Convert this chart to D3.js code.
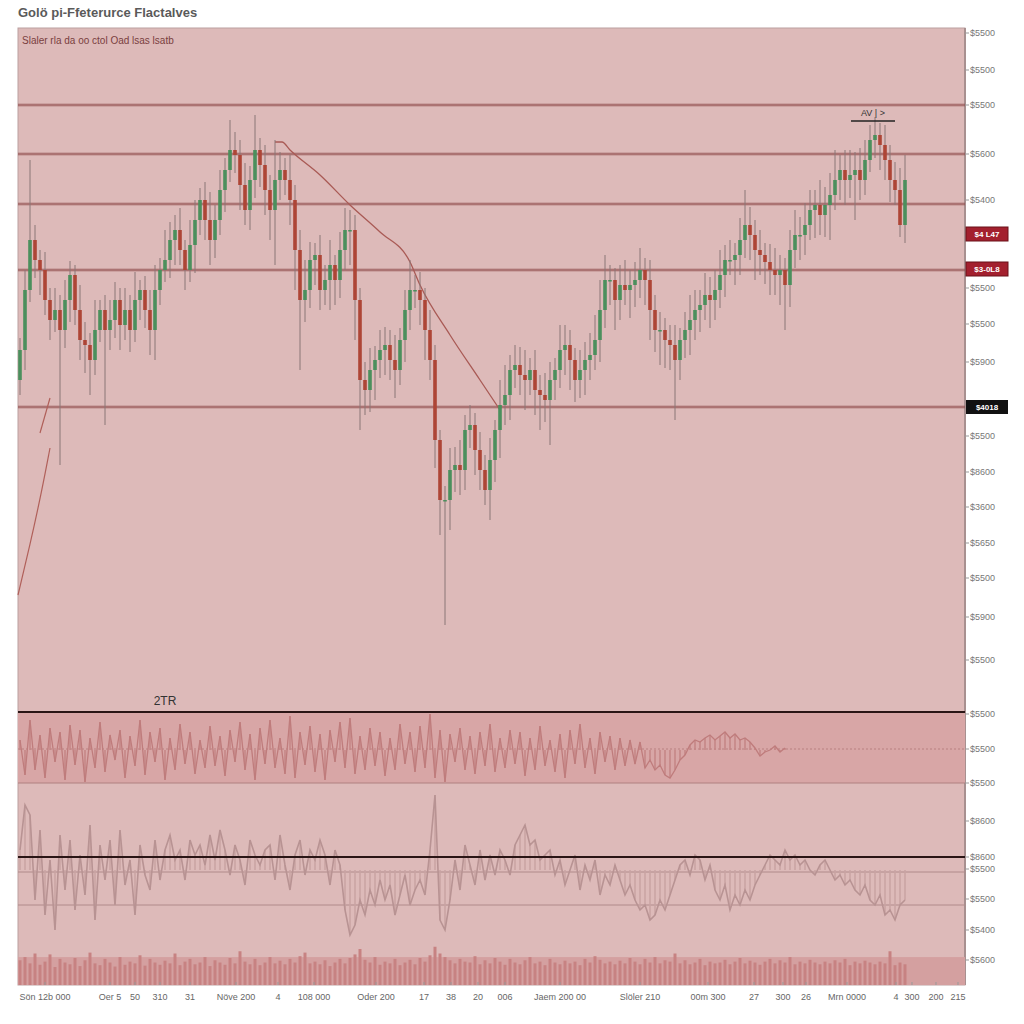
<!DOCTYPE html>
<html><head><meta charset="utf-8">
<script src="https://cdn.jsdelivr.net/npm/d3@7"></script>
<style>body{margin:0;background:#fff}text{font-family:"Liberation Sans",Arial,sans-serif}</style></head>
<body><svg id="c" width="1024" height="1024"></svg>
<script>
const firstOpen = 2080;
const closes = [
2110,2170,2220,2200,2190,2160,2140,2150,2130,2160,
2185,2150,2120,2115,2100,2130,2150,2130,2140,2160,
2135,2150,2130,2160,2170,2150,2130,2170,2190,2200,
2220,2230,2210,2190,2215,2240,2260,2240,2220,2240,
2270,2290,2310,2305,2275,2250,2280,2310,2295,2270,
2250,2280,2290,2280,2260,2210,2160,2170,2200,2205,
2170,2180,2195,2180,2210,2230,2230,2160,2080,2070,
2090,2100,2110,2115,2100,2090,2120,2150,2170,2170,
2160,2130,2100,2020,1960,1960,1990,1995,1990,2030,
2035,2010,1990,1970,2000,2030,2055,2065,2090,2095,
2085,2080,2090,2070,2065,2060,2080,2090,2110,2115,
2100,2080,2090,2100,2105,2120,2150,2180,2180,2160,
2175,2170,2175,2180,2190,2180,2150,2130,2130,2120,
2115,2100,2120,2130,2140,2150,2155,2165,2160,2170,
2185,2200,2200,2205,2220,2235,2225,2210,2205,2198,
2190,2185,2190,2175,2210,2225,2225,2235,2250,2255,
2245,2255,2265,2280,2290,2280,2285,2290,2280,2300,
2320,2325,2315,2300,2280,2270,2235,2280];
const wickUp = [
12,20,80,15,10,18,12,22,15,20,
14,10,25,18,12,30,10,15,20,18,
12,22,15,28,10,14,20,25,12,30,
18,15,22,10,25,20,12,18,28,15,
20,12,30,18,15,22,14,35,12,20,
15,40,18,12,25,15,20,30,18,12,
20,15,25,10,18,22,20,15,12,18,
22,14,20,18,15,25,12,20,30,15,
18,12,20,15,10,14,22,18,25,15,
20,12,18,15,22,10,25,30,15,20,
18,25,12,20,15,22,18,12,25,20,
15,12,20,18,22,25,30,25,15,12,
20,25,15,18,22,12,20,15,18,12,
15,20,12,18,25,20,15,22,18,20,
25,15,20,12,22,35,18,15,20,12,
18,22,15,12,20,25,18,22,20,15,
25,18,22,30,15,20,25,18,22,20,
15,18,12,20,15,18,22,25];
const wickDown = [
15,20,12,18,25,15,20,12,135,18,
22,15,20,28,35,15,12,95,20,18,
25,15,22,12,20,18,25,30,15,12,
18,25,15,20,12,28,15,20,25,18,
15,22,12,18,25,15,20,18,22,25,
30,55,20,15,25,40,70,22,18,25,
20,15,30,25,18,20,35,40,50,25,
22,30,18,25,20,28,15,22,20,18,
25,30,20,28,35,125,30,22,25,20,
18,25,20,15,30,22,28,20,25,18,
20,30,15,25,35,22,45,20,18,25,
30,22,18,25,20,15,22,18,25,30,
20,15,28,22,18,25,30,22,35,28,
25,60,20,18,25,20,22,15,28,20,
18,22,15,25,20,18,25,30,20,22,
25,20,30,45,22,18,25,20,15,28,
20,22,35,15,20,25,18,45,20,15,
12,18,25,20,22,15,12,18];
const osc1 = [
10,-25,30,-20,15,-28,22,-12,18,-30,
25,-15,20,-32,12,-18,28,-22,15,-10,
20,-28,14,-16,30,-25,18,-12,22,-30,
12,-20,26,-14,18,-24,10,-18,24,-16,
14,-26,20,-12,28,-20,16,-30,22,-14,
30,-18,12,-24,34,-28,18,-15,24,-22,
16,-30,20,-12,28,-18,32,-24,14,-20,
22,-16,18,-26,12,-20,26,-14,18,-22,
24,-18,36,-28,20,-32,16,-12,22,-20,
14,-24,18,-16,26,-22,12,-18,20,-14,
18,-26,12,-20,24,-16,10,-22,16,-28,
20,-14,26,-18,12,-24,18,-12,14,-20,
12,-16,10,-14,8,-18,-10,-20,-15,-25,
-28,-20,-10,-5,5,10,8,12,15,10,
14,18,12,16,10,12,8,2,-6,-2,
0,4,-2,2];
const osc2 = [
20,65,55,-30,40,-45,10,-60,35,-20,
30,-40,15,-25,45,-50,25,-10,30,-35,
40,-15,10,-45,25,-5,-20,30,-10,20,
35,10,20,-10,30,15,25,5,35,10,
40,20,-5,25,10,-15,30,15,5,20,
25,-10,35,5,-20,15,30,-5,20,10,
30,15,-15,20,5,-40,-65,-55,-30,-45,
-20,-35,-10,-30,-15,-45,-25,-5,-35,-20,
-10,-25,20,75,-50,-60,-30,10,-20,25,
5,-15,20,-10,15,-5,20,10,-5,25,
35,45,25,30,10,15,20,-5,10,-15,
0,15,-20,5,-10,10,-25,-5,-15,5,
-10,-25,-15,-30,-40,-35,-50,-45,-30,-40,
-25,-10,5,10,-5,15,10,-10,5,-20,
-30,-15,-40,-25,-35,-20,-30,-15,-5,5,
15,10,5,20,10,15,5,10,0,-5,
5,10,0,-10,-5,-15,-10,-20,-25,-15,
-30,-35,-25,-45,-40,-50,-35,-30];
const volume = [
55,62,48,70,45,52,68,40,58,50,
46,60,42,55,72,48,44,58,50,41,
62,45,52,48,66,43,58,50,45,54,
48,70,44,52,58,46,50,62,42,55,
50,45,60,48,75,52,46,58,44,50,
62,48,54,46,58,50,64,72,48,52,
46,55,42,50,58,48,60,68,80,56,
50,62,45,52,48,58,44,50,56,46,
60,52,66,85,70,62,55,48,58,52,
50,64,46,55,48,60,52,45,58,50,
46,55,62,48,52,44,58,50,46,54,
48,52,44,58,50,64,56,48,52,46,
54,48,60,52,46,58,50,62,48,55,
52,70,48,55,46,50,58,44,52,48,
50,56,46,52,60,48,54,50,45,52,
58,48,55,50,62,46,52,48,56,50,
46,52,48,55,50,58,44,52,48,54,
50,46,52,48,75,44,50,46];
const levels = [2355, 2306, 2256, 2190, 2053];
const trendIdx = [51, 52.4, 54, 60, 66, 72, 78, 80, 86, 92, 96];
const trendPrice = [2318, 2318, 2310, 2285, 2255, 2228, 2198, 2175, 2125, 2080, 2050];
const sketchIdx = [-0.4, 2, 4.4, 6];
const sketchPrice = [1865, 1915, 1970, 2012];
const sketch2Idx = [4, 6];
const sketch2Price = [2027, 2062];
const priceTicks = [2427,2390,2355,2306,2260,2172,2136,2098,2024,1988,1953,1917,1882,1843,1800];
const priceTickLabels = ["$5500","$5500","$5500","$5600","$5400","$5500","$5500","$5900","$5500","$8600","$3600","$5650","$5500","$5900","$5500"];
const priceBoxes = [2226, 2191];
const priceBoxLabels = ["$4 L47", "$3-0L8"];
const lastPrice = 2053;
const lastPriceLabel = "$4018";
const osc1Ticks = [36, 1, -33];
const osc1TickLabels = ["$5500","$5500","$5500"];
const osc2Ticks = [49, 13, 1, -29, -60, -90];
const osc2TickLabels = ["$8600","$8600","$5500","$5500","$5400","$5600"];
const xTickIdx = [5,18,23,28,34,43.2,51.6,58.8,71.2,80.8,86.2,91.6,97,108,124,137.6,146.8,152.6,157.2,165.4,175.2,178.4,183.2,187.6];
const xTickLabels = ["Sön 12b 000","Oer 5","50","310","31","Növe 200","4","108 000","Oder 200","17","38","20","006","Jaem 200 00","Slöler 210","00m 300","27","300","26","Mrn 0000","4","300","200","215"];

const svg = d3.select("#c");
const L = 18, R = 965, T = 28, B = 985;
const x = d3.scaleLinear().domain([0, 177]).range([20, 905]);
const y = d3.scaleLinear().domain([1800, 2430]).range([660, 30]);
const y1 = d3.scaleLinear().domain([-40, 40]).range([790, 710]);
const y2 = d3.scaleLinear().domain([-90, 90]).range([960, 780]);
const yv = d3.scaleLinear().domain([0, 100]).range([B, 940]);

svg.append("text").attr("x", 18).attr("y", 17).attr("font-size", 13).attr("font-weight", "bold")
  .attr("fill", "#5a5a5a").text("Golö pi-Ffeterurce Flactalves");

svg.append("rect").attr("x", L).attr("y", T).attr("width", R - L).attr("height", B - T)
  .attr("fill", "#ddbab9").attr("stroke", "#bca0a0").attr("stroke-width", 1);
svg.append("line").attr("x1", R).attr("x2", R).attr("y1", T).attr("y2", B).attr("stroke", "#a89090").attr("stroke-width", 2);

svg.append("text").attr("x", 22).attr("y", 44).attr("font-size", 10).attr("fill", "#7a4040")
  .text("Slaler rla da oo ctol Oad   lsas lsatb");

svg.append("rect").attr("x", L).attr("width", R - L).attr("y", y1(38)).attr("height", y1(-33) - y1(38)).attr("fill", "#d8a6a6");
svg.append("rect").attr("x", L).attr("width", R - L).attr("y", yv(62)).attr("height", B - yv(62)).attr("fill", "#d4a0a0");

const g = svg.append("g");
levels.forEach(p => {
  g.append("line").attr("x1", L).attr("x2", R).attr("y1", y(p)).attr("y2", y(p)).attr("stroke", "rgba(150,80,80,0.3)").attr("stroke-width", 3.5);
  g.append("line").attr("x1", L).attr("x2", R).attr("y1", y(p)).attr("y2", y(p)).attr("stroke", "#8f4d4d").attr("stroke-width", 1);
});

const lineP = d3.line().x(d => x(d[0])).y(d => y(d[1])).curve(d3.curveMonotoneX);
svg.append("path").attr("d", lineP(trendIdx.map((v, i) => [v, trendPrice[i]]))).attr("fill", "none").attr("stroke", "#a95a55").attr("stroke-width", 1.3);
svg.append("path").attr("d", d3.line().x(d => x(d[0])).y(d => y(d[1])).curve(d3.curveBasis)(sketchIdx.map((v, i) => [v, sketchPrice[i]]))).attr("fill", "none").attr("stroke", "#b0605a").attr("stroke-width", 1.2);
svg.append("path").attr("d", d3.line().x(d => x(d[0])).y(d => y(d[1]))(sketch2Idx.map((v, i) => [v, sketch2Price[i]]))).attr("fill", "none").attr("stroke", "#b0605a").attr("stroke-width", 1.2);

const opens = closes.map((c, i) => i === 0 ? firstOpen : closes[i - 1]);
const cg = svg.append("g");
closes.forEach((c, i) => {
  const o = opens[i];
  const top = Math.max(o, c), bot = Math.min(o, c);
  const hi = top + wickUp[i], lo = bot - wickDown[i];
  const up = c >= o;
  cg.append("line").attr("x1", x(i)).attr("x2", x(i)).attr("y1", y(hi)).attr("y2", y(lo)).attr("stroke", "#8a7676").attr("stroke-width", 1);
  const h = Math.max(1.5, y(bot) - y(top));
  cg.append("rect").attr("x", x(i) - 1.8).attr("width", 3.6).attr("y", y(top)).attr("height", h)
    .attr("fill", up ? "#4b8f5d" : "#ad4536");
});

svg.append("line").attr("x1", x(166.2)).attr("x2", x(175)).attr("y1", y(2339)).attr("y2", y(2339)).attr("stroke", "#222").attr("stroke-width", 1.5);
svg.append("text").attr("x", x(170.6)).attr("y", y(2344)).attr("text-anchor", "middle").attr("font-size", 9).attr("fill", "#333").text("AV | >");

svg.append("text").attr("x", 165).attr("y", 705).attr("text-anchor", "middle").attr("font-size", 12).attr("fill", "#333").text("2TR");
svg.append("line").attr("x1", L).attr("x2", R).attr("y1", y1(1)).attr("y2", y1(1)).attr("stroke", "#b88080").attr("stroke-width", 1).attr("stroke-dasharray", "2,2");
svg.append("line").attr("x1", L).attr("x2", R).attr("y1", y1(-33)).attr("y2", y1(-33)).attr("stroke", "#b08080").attr("stroke-width", 1);
const og1 = svg.append("g");
osc1.forEach((v, i) => {
  og1.append("line").attr("x1", x(i)).attr("x2", x(i)).attr("y1", y1(0)).attr("y2", y1(v)).attr("stroke", "#c58585").attr("stroke-width", 1.5);
});
svg.append("path").attr("d", d3.line().x((d, i) => x(i)).y(d => y1(d))(osc1)).attr("fill", "none").attr("stroke", "#bf7c7c").attr("stroke-width", 1.3);
svg.append("line").attr("x1", L).attr("x2", R).attr("y1", y1(38)).attr("y2", y1(38)).attr("stroke", "#2a1515").attr("stroke-width", 2);

svg.append("line").attr("x1", L).attr("x2", R).attr("y1", y2(-2)).attr("y2", y2(-2)).attr("stroke", "#b08a8a").attr("stroke-width", 1);
svg.append("line").attr("x1", L).attr("x2", R).attr("y1", y2(-35)).attr("y2", y2(-35)).attr("stroke", "#b08a8a").attr("stroke-width", 1);
const og2 = svg.append("g");
osc2.forEach((v, i) => {
  og2.append("line").attr("x1", x(i)).attr("x2", x(i)).attr("y1", y2(0)).attr("y2", y2(v)).attr("stroke", "#c9a3a3").attr("stroke-width", 1.5);
});
svg.append("path").attr("d", d3.line().x((d, i) => x(i)).y(d => y2(d))(osc2)).attr("fill", "none").attr("stroke", "#b89393").attr("stroke-width", 1.6);
svg.append("line").attr("x1", L).attr("x2", R).attr("y1", y2(13)).attr("y2", y2(13)).attr("stroke", "#2a1515").attr("stroke-width", 2);

const vg = svg.append("g");
volume.forEach((v, i) => {
  vg.append("rect").attr("x", x(i) - 1.5).attr("width", 3).attr("y", yv(v)).attr("height", B - yv(v)).attr("fill", "#c78282");
});

const ax = svg.append("g").attr("font-size", 9).attr("fill", "#777");
function rtick(yy, label) {
  ax.append("line").attr("x1", R).attr("x2", R + 4).attr("y1", yy).attr("y2", yy).attr("stroke", "#999");
  ax.append("text").attr("x", R + 5).attr("y", yy + 3).text(label);
}
priceTicks.forEach((p, i) => rtick(y(p), priceTickLabels[i]));
osc1Ticks.forEach((p, i) => rtick(y1(p), osc1TickLabels[i]));
osc2Ticks.forEach((p, i) => rtick(y2(p), osc2TickLabels[i]));
priceBoxes.forEach((p, i) => {
  ax.append("rect").attr("x", R + 1).attr("y", y(p) - 7).attr("width", 42).attr("height", 14).attr("fill", "#a3202e").attr("stroke", "#6a1018");
  ax.append("text").attr("x", R + 22).attr("y", y(p) + 3).attr("text-anchor", "middle").attr("fill", "#fff").attr("font-size", 8).attr("font-weight", "bold").text(priceBoxLabels[i]);
});
ax.append("rect").attr("x", R + 1).attr("y", y(lastPrice) - 7).attr("width", 42).attr("height", 14).attr("fill", "#111");
ax.append("text").attr("x", R + 22).attr("y", y(lastPrice) + 3).attr("text-anchor", "middle").attr("fill", "#fff").attr("font-size", 8).attr("font-weight", "bold").text(lastPriceLabel);

const bx = svg.append("g").attr("font-size", 9).attr("fill", "#666");
xTickIdx.forEach((t, i) => {
  bx.append("line").attr("x1", x(t)).attr("x2", x(t)).attr("y1", B - 3).attr("y2", B).attr("stroke", "#999");
  bx.append("text").attr("x", x(t)).attr("y", 1000).attr("text-anchor", "middle").text(xTickLabels[i]);
});
</script></body></html>
